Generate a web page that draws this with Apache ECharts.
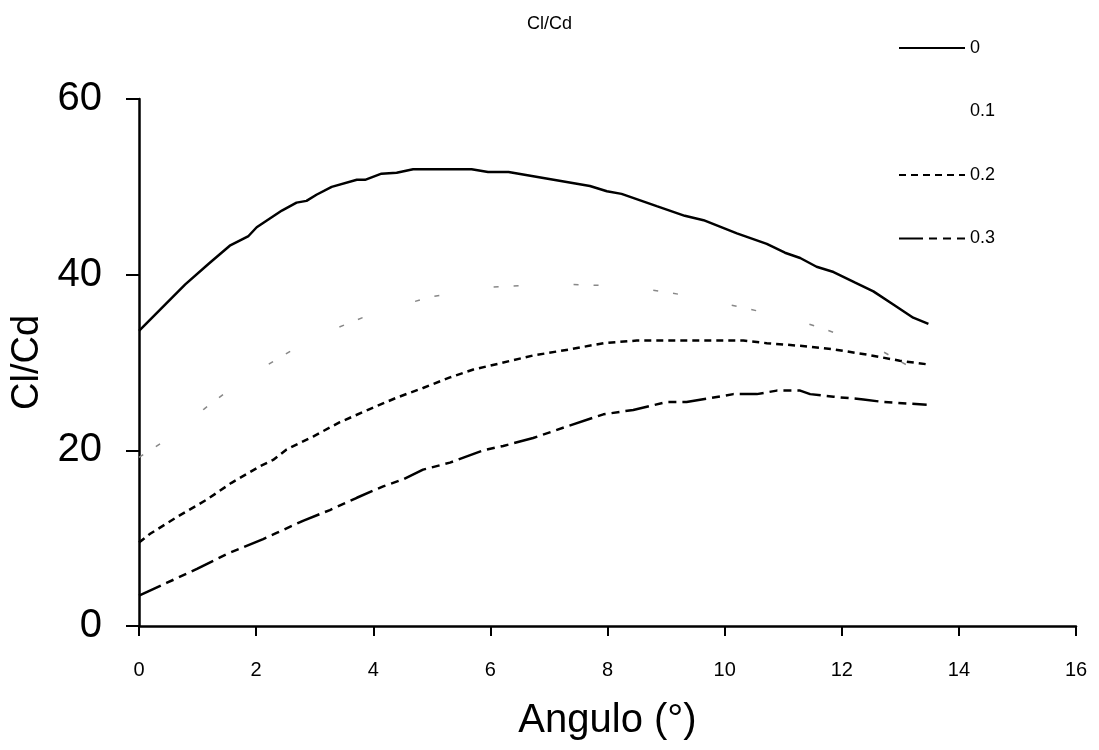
<!DOCTYPE html>
<html>
<head>
<meta charset="utf-8">
<script src="https://cdn.jsdelivr.net/npm/echarts@6/dist/echarts.min.js"></script>
<style>
  html, body { margin: 0; padding: 0; background: #fff; }
  #chart { width: 1099px; height: 750px; }
</style>
</head>
<body>
<div id="chart"></div>
<script>
// ---- data ----
const seriesNames = ['0', '0.1', '0.2', '0.3'];

const angle0 = [0, 0.79, 1.2, 1.55, 1.87, 2.01, 2.44, 2.69, 2.86, 3.03, 3.29, 3.72, 3.86, 4.14, 4.40, 4.68, 5.68, 5.96, 6.31, 7.70, 7.99, 8.24, 8.84, 9.32, 9.64, 10.21, 10.72, 11.03, 11.29, 11.57, 11.86, 12.23, 12.54, 12.88, 13.22, 13.48];
const ratio0 = [33.6, 38.9, 41.3, 43.3, 44.4, 45.4, 47.3, 48.2, 48.4, 49.1, 50.0, 50.8, 50.8, 51.5, 51.6, 52.0, 52.0, 51.7, 51.7, 50.1, 49.5, 49.2, 47.8, 46.7, 46.2, 44.7, 43.5, 42.5, 41.9, 40.9, 40.3, 39.1, 38.1, 36.6, 35.1, 34.4];

const angle1 = [0, 0.42, 0.79, 1.11, 1.72, 2.04, 2.19, 2.81, 3.18, 4.0, 5.0, 6.03, 6.95, 7.33, 8.27, 8.61, 9.67, 9.86, 10.95, 11.34, 12.5, 13.14, 13.31];
const ratio1 = [19.2, 21.0, 23.1, 24.7, 27.8, 29.1, 29.7, 32.2, 33.4, 35.6, 37.5, 38.6, 38.9, 38.9, 38.7, 38.4, 37.3, 36.9, 35.3, 34.6, 32.0, 29.6, 28.5];

const angle2 = [0, 0.19, 0.67, 1.16, 1.58, 2.07, 2.29, 2.52, 2.98, 3.43, 3.94, 4.40, 4.85, 5.31, 5.71, 6.16, 6.73, 7.36, 7.93, 8.50, 10.32, 10.72, 11.29, 11.86, 12.43, 12.99, 13.45];
const ratio2 = [9.5, 10.5, 12.5, 14.4, 16.3, 18.2, 18.9, 20.1, 21.6, 23.2, 24.7, 26.0, 27.1, 28.3, 29.2, 29.9, 30.8, 31.5, 32.2, 32.5, 32.5, 32.2, 31.9, 31.5, 30.9, 30.2, 29.8];

const angle3 = [0, 0.47, 0.99, 1.50, 2.12, 2.35, 2.81, 3.26, 3.72, 4.17, 4.51, 4.85, 5.31, 5.88, 6.22, 6.73, 7.30, 7.93, 8.44, 9.01, 9.35, 10.15, 10.55, 10.89, 11.29, 11.46, 11.86, 12.37, 12.71, 13.45];
const ratio3 = [3.45, 4.9, 6.5, 8.2, 9.9, 10.6, 12.0, 13.2, 14.6, 15.9, 16.7, 17.8, 18.6, 20.0, 20.5, 21.4, 22.7, 24.1, 24.6, 25.5, 25.5, 26.4, 26.4, 26.8, 26.8, 26.4, 26.1, 25.8, 25.5, 25.2];

const xTicks = { min: 0, max: 16, interval: 2 };
const yTicks = { min: 0, max: 60, interval: 20 };

// ---- chart ----
const pair = (xs, ys) => xs.map((x, i) => [x, ys[i]]);
const FONT = "'Liberation Sans', Arial, sans-serif";

const chart = echarts.init(document.getElementById('chart'), null, { renderer: 'canvas' });

const dashes = [
  { type: 'solid', color: '#000', width: 2.5 },
  { type: [5, 15, 5, 55], color: '#888', width: 1.5 },
  { type: [7, 5], color: '#000', width: 2.5 },
  { type: [24, 6, 8, 6, 8, 6], color: '#000', width: 2.5 }
];
const datasets = [pair(angle0, ratio0), pair(angle1, ratio1), pair(angle2, ratio2), pair(angle3, ratio3)];

chart.setOption({
  animation: false,
  backgroundColor: '#fff',
  title: {
    text: 'Cl/Cd',
    left: 'center',
    top: 10,
    textStyle: { fontFamily: FONT, fontSize: 18, fontWeight: 'normal', color: '#000' }
  },
  legend: {
    orient: 'vertical',
    left: 893,
    top: 33,
    itemWidth: 66,
    itemHeight: 20,
    itemGap: 43.5,
    itemStyle: { opacity: 0 },
    textStyle: { fontFamily: FONT, fontSize: 18, color: '#000', lineHeight: 20 },
    data: [
      { name: '0' },
      { name: '0.1', lineStyle: { opacity: 0 }, itemStyle: { opacity: 0 } },
      { name: '0.2' },
      { name: '0.3' }
    ]
  },
  grid: { left: 139, right: 23, top: 99, bottom: 124, containLabel: false },
  xAxis: {
    type: 'value',
    min: xTicks.min, max: xTicks.max, interval: xTicks.interval,
    name: 'Angulo (°)',
    nameLocation: 'middle',
    nameGap: 75,
    nameTextStyle: { fontFamily: FONT, fontSize: 40, color: '#000' },
    axisLine: { onZero: false, lineStyle: { color: '#000', width: 2.5 } },
    axisTick: { show: true, inside: false, length: 10, lineStyle: { color: '#000', width: 2 } },
    axisLabel: { margin: 34, fontFamily: FONT, fontSize: 20, color: '#000' },
    splitLine: { show: false }
  },
  yAxis: {
    type: 'value',
    min: yTicks.min, max: yTicks.max, interval: yTicks.interval,
    name: 'Cl/Cd',
    nameLocation: 'middle',
    nameGap: 86,
    nameTextStyle: { fontFamily: FONT, fontSize: 38, color: '#000' },
    axisLine: { show: true, onZero: false, lineStyle: { color: '#000', width: 2.5 } },
    axisTick: { show: true, inside: false, length: 13, lineStyle: { color: '#000', width: 2 } },
    axisLabel: { margin: 37, fontFamily: FONT, fontSize: 40, color: '#000' },
    splitLine: { show: false }
  },
  series: seriesNames.map((name, i) => ({
    name: name,
    type: 'line',
    data: datasets[i],
    symbol: 'none',
    showSymbol: false,
    smooth: false,
    lineStyle: { color: dashes[i].color, width: dashes[i].width, type: dashes[i].type },
    itemStyle: { color: dashes[i].color },
    emphasis: { disabled: true }
  }))
});
</script>
</body>
</html>
